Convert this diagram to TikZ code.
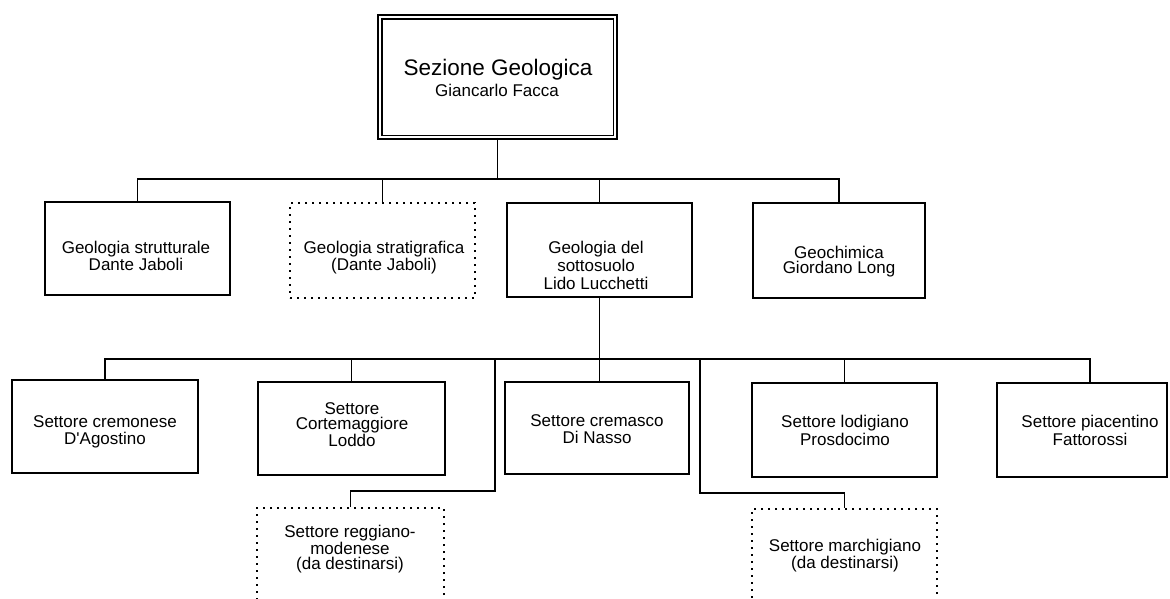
\documentclass[tikz,border=0pt]{standalone}
\usepackage{fontspec}
\setmainfont{Liberation Sans}
\begin{document}
\begin{tikzpicture}[x=1pt,y=-1pt,
  box/.style={draw, line width=1.9pt, inner sep=0pt},
  dotbox/.style={draw, line width=1.6pt, dash pattern=on 1.6pt off 5.4pt, inner sep=0pt},
  headbox/.style={draw, line width=1.5pt, double, double distance=2.4pt, inner sep=0pt},
  wh/.style 2 args={minimum width=#1, minimum height=#2},
  link/.style={line width=1.9pt},
  txt/.style={align=center, inner sep=0pt, anchor=north, font=\fontsize{17}{#1}\selectfont},
  txt/.default=15,
]
\useasboundingbox (0,0) rectangle (1170,598);
\clip (0,0) rectangle (1170,598);
\fill[white] (0,0) rectangle (1170,598);

% head of the section
\node[headbox, wh={235.4pt}{120.4pt}] (sez) at (497.5,77) {};
\node[anchor=base, inner sep=0pt, font=\fontsize{22.5}{26}\selectfont] (sezT) at (498,75) {Sezione Geologica};
\node[anchor=base, inner sep=0pt, font=\fontsize{17}{20}\selectfont] (sezN) at (497,96) {Giancarlo Facca};

% second level
\node[box, wh={185pt}{93pt}] (g1) at (137.5,248.5) {};
\node[dotbox, wh={185pt}{95pt}] (g2) at (382.5,250.5) {};
\node[box, wh={185pt}{94pt}] (g3) at (599.5,250) {};
\node[box, wh={172pt}{95pt}] (g4) at (839,250.5) {};

\node[txt] (g1t) at (136,240.7) {Geologia strutturale\\Dante Jaboli};
\node[txt] (g2t) at (384,240.7) {Geologia stratigrafica\\(Dante Jaboli)};
\node[txt=18] (g3t) at (596,240.7) {Geologia del\\sottosuolo\\Lido Lucchetti};
\node[txt] (g4t) at (839,245.7) {Geochimica\\Giordano Long};

% third level
\node[box, wh={186pt}{93pt}] (s1) at (105,426.5) {};
\node[box, wh={187pt}{93pt}] (s2) at (351.5,428.5) {};
\node[box, wh={184pt}{92pt}] (s3) at (597,428) {};
\node[box, wh={185pt}{94pt}] (s4) at (844.5,430) {};
\node[box, wh={170pt}{94pt}] (s5) at (1082,430) {};

\node[txt=17] (s1t) at (105,415.7) {Settore cremonese\\D\textquotesingle Agostino};
\node[txt] (s2t) at (352,402.7) {Settore\\Cortemaggiore\\Loddo};
\node[txt=17] (s3t) at (597,414.7) {Settore cremasco\\Di Nasso};
\node[txt=18] (s4t) at (845,414.7) {Settore lodigiano\\Prosdocimo};
\node[txt=18] (s5t) at (1090,414.7) {Settore piacentino\\Fattorossi};

% sectors still to be assigned
\node[dotbox, wh={187pt}{110pt}] (r1) at (350.5,563) {};
\node[dotbox, wh={185pt}{110pt}] (m1) at (844.5,564) {};
\node[txt] (r1t) at (350,524.7) {Settore reggiano-\\modenese\\(da destinarsi)};
\node[txt] (m1t) at (845,538.7) {Settore marchigiano\\(da destinarsi)};

% junction points of the connectors
\coordinate (busA) at (497.5,179);
\coordinate (busB) at (598,359);
\coordinate (busBr) at (1090,359);
\coordinate (rj) at (495,359);
\coordinate (rk) at (495,491);
\coordinate (mj) at (700,359);
\coordinate (mk) at (700,493);

% connectors
\draw[link] (sez.south) -- (sez.south |- busA);
\draw[link] (g1.north) -- (g1.north |- busA) -- (g4.north |- busA) -- (g4.north);
\draw[link] (g2.north) -- (g2.north |- busA);
\draw[link] (g3.north) -- (g3.north |- busA);

\draw[link] (g3.south) -- (g3.south |- s3.north);
\draw[link] (s1.north) -- (s1.north |- busB) -- (busBr) -- (busBr |- s5.north);
\draw[link] (s2.north) -- (s2.north |- busB);
\draw[link] (s4.north) -- (s4.north |- busB);
\draw[link] (rj) -- (rk) -| (r1.north);
\draw[link] (mj) -- (mk) -| (m1.north);
\end{tikzpicture}
\end{document}
